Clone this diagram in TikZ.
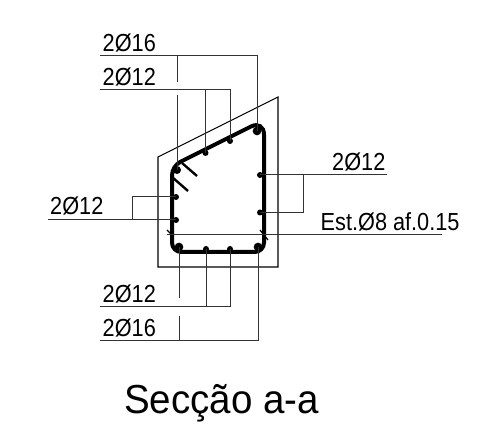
\documentclass[tikz,border=0pt]{standalone}
\usepackage{fontspec}
\setmainfont{Liberation Sans}
\begin{document}
\begin{tikzpicture}[line cap=butt,line join=miter,x=0.75pt,y=-0.75pt]
	\tikzset{
		bar/.style={circle,fill=black,inner sep=0pt,minimum size=#1},
		bar/.default=4.5pt,
		leader/.style={line width=0.75pt,black!80},
		outline/.style={line width=0.8pt,black},
		stirrup/.style={line width=3pt,black,rounded corners=7pt},
		hook/.style={line width=1.8pt,black},
		tick/.style={line width=0.9pt,black},
		lab/.style={font=\fontsize{18.5pt}{20pt}\selectfont,anchor=base west,inner sep=0pt,xscale=0.88,transform shape},
	}
	\useasboundingbox (0,0) rectangle (479,427);
	% concrete
	\draw[outline] (158,157)--(278,97)--(278,267)--(158,267)--cycle;
	% bars
	\node[bar=6pt] (tl) at (177,170) {};
	\node[bar] (t1) at (205.5,153) {};
	\node[bar] (t2) at (230,141) {};
	\node[bar=6.5pt] (tr) at (257,131) {};
	\node[bar] (r1) at (260,175) {};
	\node[bar] (r2) at (260,212.5) {};
	\node[bar] (l1) at (176,197) {};
	\node[bar] (l2) at (176,220) {};
	\node[bar=6.5pt] (bl) at (179,247) {};
	\node[bar] (b1) at (206,249) {};
	\node[bar] (b2) at (230,249) {};
	\node[bar=6.5pt] (br) at (258,247) {};
	% stirrup
	\draw[stirrup] (172,210)--(172,252)--(264,252) [rounded corners=11pt] --(264,120) [rounded corners=7pt] --(172,166)--cycle;
	\draw[hook] (182,163)--(197,176);
	\draw[hook] (172,177)--(188,191);
	\draw[tick] (167,230)--(173,236);
	\draw[tick] (260,230)--(268,240);
	% leaders top
	\coordinate (top16) at (100,56);
	\coordinate (top12) at (100,90);
	\coordinate (gapa) at (177,82);
	\coordinate (gapb) at (177,95);
	\draw[leader] (top16)--(tr.center|-top16)--(tr.center);
	\draw[leader] (top12)--(t2.center|-top12)--(t2.center);
	\draw[leader] (t1.center|-top12)--(t1.center);
	\draw[leader] (gapa|-top16)--(gapa);
	\draw[leader] (gapb)--(tl.center);
	% leaders bottom
	\coordinate (bot12) at (100,307);
	\coordinate (bot16) at (100,341);
	\coordinate (gapc) at (179,298);
	\coordinate (gapd) at (179,316);
	\draw[leader] (bot16)--(br.center|-bot16)--(br.center);
	\draw[leader] (bot12)--(b2.center|-bot12)--(b2.center);
	\draw[leader] (b1.center|-bot12)--(b1.center);
	\draw[leader] (bl.center)--(gapc);
	\draw[leader] (gapd)--(gapd|-bot16);
	% leaders sides
	\coordinate (lefta) at (48,220);
	\coordinate (leftb) at (132,220);
	\coordinate (righta) at (387,175);
	\coordinate (rightb) at (303,175);
	\coordinate (esta) at (167,235);
	\coordinate (estb) at (442,235);
	\draw[leader] (lefta)--(l2.center);
	\draw[leader] (leftb)--(leftb|-l1)--(l1.center);
	\draw[leader] (righta)--(r1.center);
	\draw[leader] (rightb)--(rightb|-r2)--(r2.center);
	\draw[leader] (esta)--(estb);
	% labels
	\node[lab] (n1) at (102.5,52) {2Ø16};
	\node[lab] (n2) at (102.5,85.5) {2Ø12};
	\node[lab] (n3) at (50,215) {2Ø12};
	\node[lab] (n4) at (332,171) {2Ø12};
	\node[lab] (n5) at (320.5,231) {Est.Ø8 af.0.15};
	\node[lab] (n6) at (102.5,303) {2Ø12};
	\node[lab] (n7) at (102.5,337) {2Ø16};
	\node[lab,font=\fontsize{30.4pt}{32pt}\selectfont,xscale=0.95/0.88] (title) at (124,414) {Secção a-a};
\end{tikzpicture}
\end{document}
